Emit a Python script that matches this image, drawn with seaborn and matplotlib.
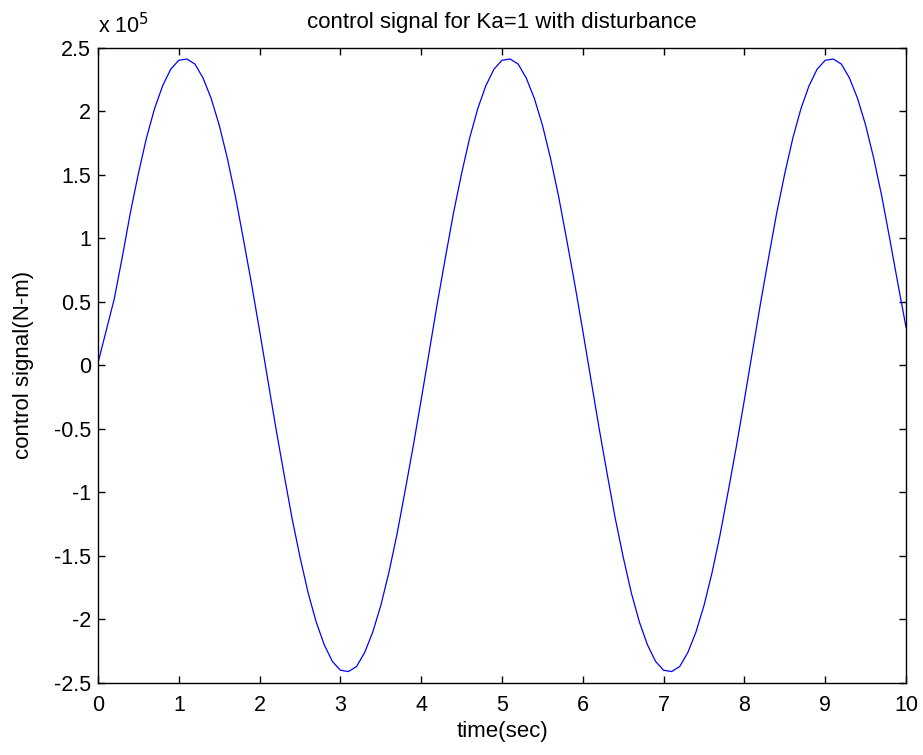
import numpy as np
import pandas as pd
import matplotlib
matplotlib.use('Agg')
import matplotlib.pyplot as plt
import seaborn as sns

sns.set_style("ticks", {'text.color': 'black', 'axes.labelcolor': 'black',
                        'xtick.color': 'black', 'ytick.color': 'black'})
plt.rcParams['font.family'] = ['Liberation Sans', 'DejaVu Sans']

# time axis (sec), 0.1 s steps
t = np.round(np.arange(0, 101) * 0.1, 1)

# control signal values in units of 1e5 N-m
start = [0.02, 0.27, 0.52, 0.85, 1.20, 1.51, 1.79, 2.02, 2.20, 2.33, 2.40,
         2.41, 2.37, 2.26, 2.10, 1.89, 1.63, 1.33, 0.99, 0.64]
up = [0.11, 0.49, 0.85, 1.20, 1.51, 1.79, 2.02, 2.20, 2.33, 2.40,
      2.41, 2.37, 2.26, 2.10, 1.89, 1.63, 1.33, 0.99, 0.64]
down = [-0.11, -0.49, -0.85, -1.20, -1.51, -1.79, -2.02, -2.20, -2.33, -2.40,
        -2.41, -2.37, -2.26, -2.10, -1.89, -1.63, -1.33, -0.99, -0.64]
u = (start + [0.27] + down + [-0.27] + up + [0.27] + down
     + [-0.27] + up + [0.30])

df = pd.DataFrame({'time': t, 'u': u})

fig = plt.figure(figsize=(9.23, 7.55), dpi=100)
ax = fig.add_axes([0.1062, 0.0954, 0.8754, 0.8416])
sns.lineplot(data=df, x='time', y='u', ax=ax, color='#0000ff', linewidth=0.9)

fs = 15.5
ax.set_xlim(0, 10)
ax.set_ylim(-2.5, 2.5)
ax.set_xticks(np.arange(0, 11, 1))
yt = np.arange(-2.5, 2.51, 0.5)
ax.set_yticks(yt)
ax.set_yticklabels(['%g' % v for v in yt])
ax.tick_params(direction='in', top=True, right=True, labelsize=fs, length=5, width=1, pad=5)
ax.tick_params(axis='x', pad=9)
for s in ax.spines.values():
    s.set_linewidth(1)
    s.set_color('black')

ax.set_title('control signal for Ka=1 with disturbance', fontsize=fs + 0.5, pad=14)
ax.set_xlabel('time(sec)', fontsize=fs + 0.5, labelpad=3)
ax.set_ylabel('control signal(N-m)', fontsize=fs + 0.5, labelpad=14)
ax.text(0.0, 1.014, 'x 10$^{5}$', transform=ax.transAxes, fontsize=fs,
        ha='left', va='bottom')

fig.savefig('out.png', dpi=100)
